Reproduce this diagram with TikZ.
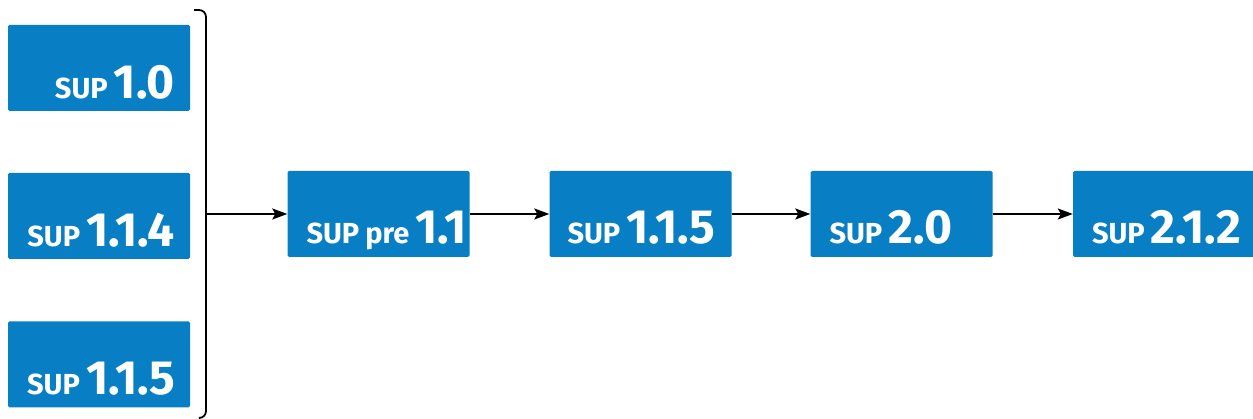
\documentclass[tikz,border=0pt]{standalone}
\usepackage{fontspec}
\setmainfont{Fira Sans}
\usetikzlibrary{arrows.meta}
\definecolor{boxblue}{RGB}{8,126,196}
\tikzset{
  vbox/.style={fill=boxblue, rounded corners=1.5pt, minimum width=182pt, minimum height=86pt, inner sep=0pt, draw=none},
  vtxt/.style={text=white, inner sep=0pt, font=\bfseries},
  conn/.style={line width=1.8pt, -{Stealth[length=15pt,width=11pt,inset=3pt]}},
}
\newcommand{\supl}[2]{{\fontsize{29}{29}\selectfont #1}\hspace{6pt}{\fontsize{48}{48}\selectfont #2}}
\begin{document}
\begin{tikzpicture}[x=1pt,y=1pt]
\useasboundingbox (0,0) rectangle (1253,419);
% left column
\node[vbox] (a) at (99,351) {};
\node[vbox] (b) at (99,203) {};
\node[vbox] (c) at (99,54.5) {};
\node[vtxt, anchor=base east] (ta) at ([shift={(-15,13)}]a.south east) {\supl{SUP}{1.0}};
\node[vtxt, anchor=base east] (tb) at ([shift={(-15,13)}]b.south east) {\supl{SUP}{1.1.4}};
\node[vtxt, anchor=base east] (tc) at ([shift={(-15,13)}]c.south east) {\supl{SUP}{1.1.5}};
% bracket
\coordinate (bt) at (194,409);
\coordinate (bb) at (200,1);
\coordinate (bm) at (206,205);
\draw[line width=1.8pt] (bt) -- (199,409) arc[start angle=90,end angle=0,radius=7] -- (206,8) arc[start angle=0,end angle=-90,radius=7] -- (bb);
% chain
\node[vbox] (p) at (378.5,205) {};
\node[vbox] (q) at (640.5,205) {};
\node[vbox] (r) at (901.5,205) {};
\node[vbox] (s) at (1164,205) {};
\node[vtxt, anchor=base west] (tp) at ([shift={(19,14)}]p.south west) {{\fontsize{29}{29}\selectfont SUP\hspace{6pt}pre}\hspace{6pt}{\fontsize{48}{48}\selectfont 1.1}};
\node[vtxt, anchor=base west] (tq) at ([shift={(18,14)}]q.south west) {\supl{SUP}{1.1.5}};
\node[vtxt, anchor=base west] (tr) at ([shift={(19,14)}]r.south west) {\supl{SUP}{2.0}};
\node[vtxt, anchor=base west] (ts) at ([shift={(19,14)}]s.south west) {\supl{SUP}{2.1.2}};
\draw[conn] (bm) -- (p.west);
\draw[conn] (p) -- (q);
\draw[conn] (q) -- (r);
\draw[conn] (r) -- (s);
\end{tikzpicture}
\end{document}
